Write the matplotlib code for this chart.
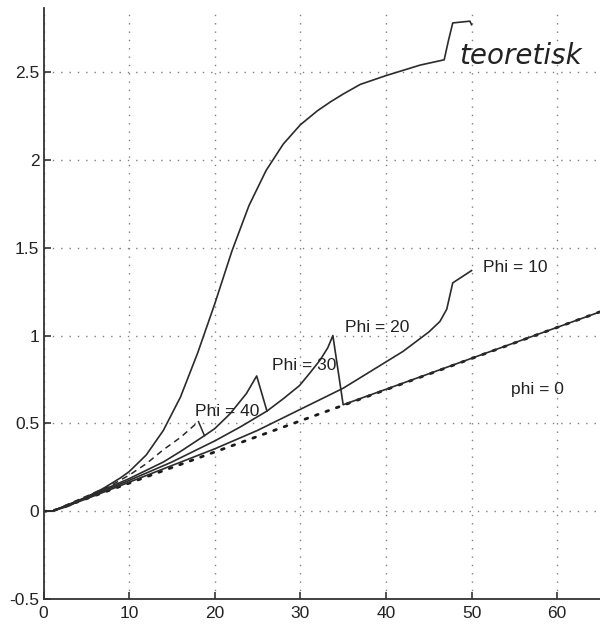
import matplotlib
matplotlib.use("Agg")
import matplotlib.pyplot as plt

# data
x_teor = [0, 1, 3, 5, 7, 9, 10, 12, 14, 16, 18, 20, 22, 24, 26, 28, 30, 32, 33.5, 35, 37, 40, 42, 44, 46.8, 47.3, 47.8, 49.8, 50]
y_teor = [0, 0, 0.03, 0.08, 0.13, 0.19, 0.225, 0.32, 0.46, 0.65, 0.9, 1.18, 1.48, 1.74, 1.94, 2.09, 2.2, 2.28, 2.33, 2.375, 2.43, 2.48, 2.51, 2.54, 2.57, 2.68, 2.78, 2.79, 2.77]

x_phi0 = [0, 1, 65]
y_phi0 = [0, 0, 1.135]

x_phi10 = [0, 1, 5, 10, 15, 20, 25, 30, 35, 40, 42, 45, 46.3, 47.1, 47.8, 50]
y_phi10 = [0, 0, 0.07, 0.165, 0.26, 0.355, 0.46, 0.58, 0.70, 0.85, 0.91, 1.02, 1.08, 1.15, 1.30, 1.37]

x_phi20 = [0, 1, 5, 10, 15, 20, 23, 26.1, 28, 29.9, 31, 32.3, 33.2, 33.8, 35.0, 65]
y_phi20 = [0, 0, 0.075, 0.175, 0.28, 0.40, 0.48, 0.57, 0.64, 0.715, 0.78, 0.86, 0.93, 1.0, 0.606, 1.135]

x_phi30 = [0, 1, 5, 10, 14, 16, 18.8, 20, 21.8, 23.7, 24.9, 26.1]
y_phi30 = [0, 0, 0.08, 0.185, 0.28, 0.34, 0.43, 0.47, 0.555, 0.67, 0.77, 0.57]

x_phi40 = [0, 1, 5, 8, 10, 12, 14, 16, 18.1, 18.8]
y_phi40 = [0, 0, 0.085, 0.15, 0.205, 0.27, 0.35, 0.42, 0.51, 0.43]

xticks = [0, 10, 20, 30, 40, 50, 60]
yticks = [-0.5, 0, 0.5, 1, 1.5, 2, 2.5]
ytick_labels = ["-0.5", "0", "0.5", "1", "1.5", "2", "2.5"]

plt.rcParams['font.family'] = ['Liberation Sans', 'DejaVu Sans']

fig = plt.figure(figsize=(6, 6.25), dpi=100)
ax = fig.add_axes([0.0725, 0.0416, 0.9275, 0.9456])

line_col = '#2b2b2b'
ax.plot(x_phi0, y_phi0, color='#1a1a1a', lw=2.0, linestyle=(0, (1, 3)), dash_capstyle='round')
ax.plot(x_teor, y_teor, color=line_col, lw=1.2)
ax.plot(x_phi10, y_phi10, color=line_col, lw=1.2)
ax.plot(x_phi20, y_phi20, color=line_col, lw=1.2)
ax.plot(x_phi30, y_phi30, color=line_col, lw=1.2)
ax.plot(x_phi40[:-1], y_phi40[:-1], color=line_col, lw=1.1, linestyle=(0, (4, 3)))
ax.plot(x_phi40[-2:], y_phi40[-2:], color=line_col, lw=1.1)

ax.set_xlim(0, 65)
ax.set_ylim(-0.5, 2.865)
ax.set_xticks(xticks)
ax.set_yticks(yticks)
ax.set_yticklabels(ytick_labels)

ax.grid(True, color='#808080', linestyle=(0, (1, 5)), lw=1.0)
ax.spines['top'].set_visible(False)
ax.spines['right'].set_visible(False)
for s in ['left', 'bottom']:
    ax.spines[s].set_linewidth(1.3)
    ax.spines[s].set_color('#333333')
ax.tick_params(direction='in', length=5, width=1.2, colors='#333333', labelsize=12.5, labelcolor='#222222')
ax.tick_params(axis='y', pad=3)
ax.tick_params(axis='x', pad=5)

txt = dict(fontsize=12.5, color='#222222', va='center', ha='left')
ax.text(17.7, 0.565, "Phi = 40", **txt)
ax.text(26.7, 0.83, "Phi = 30", **txt)
ax.text(35.2, 1.045, "Phi = 20", **txt)
ax.text(51.3, 1.39, "Phi = 10", **txt)
ax.text(54.6, 0.69, "phi = 0", **txt)
ax.text(48.6, 2.59, "teoretisk", fontsize=20, style='italic', color='#222222',
        va='center', ha='left', family=['DejaVu Sans'])

fig.savefig("out.png", dpi=100)
